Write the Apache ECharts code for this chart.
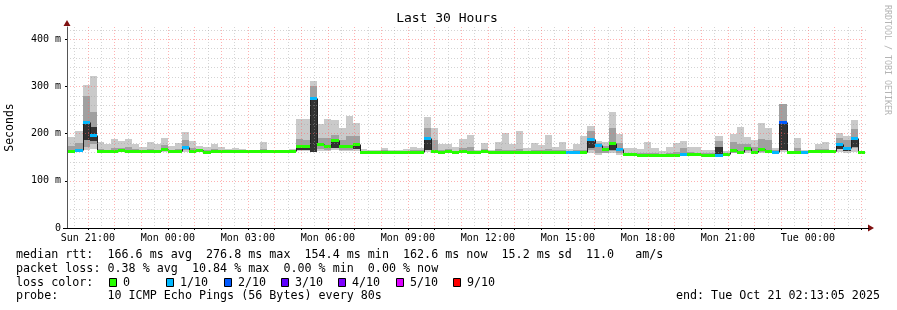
<!DOCTYPE html>
<html><head><meta charset="utf-8">
<script src="https://cdn.jsdelivr.net/npm/echarts@6/dist/echarts.min.js"></script>
<style>html,body{margin:0;padding:0;background:#ffffff}#c{width:897px;height:310px}</style>
</head><body><div id="c"></div>
<script>
const FONT = '"DejaVu Sans Mono", monospace';
const titleText = 'Last 30 Hours';
const yAxisTitle = 'Seconds';
const sideText = 'RRDTOOL / TOBI OETIKER';

// time axis in hours since Sun 00:00
const startHour = 20 + 13/60 + 5/3600;   // Sun 20:13:05
const endHour = startHour + 30;          // Tue 02:13:05
const firstBarHour = 20;                 // first 16-min bar: Sun 20:00
const barHours = 16/60;
const labelHours = [21,24,27,30,33,36,39,42,45,48];
const majorGridHours = [21,22,23,24,25,26,27,28,29,30,31,32,33,34,35,36,37,38,39,40,41,42,43,44,45,46,47,48,49,50];
const minorGridHours = [20.5,21.5,22.5,23.5,24.5,25.5,26.5,27.5,28.5,29.5,30.5,31.5,32.5,33.5,34.5,35.5,36.5,37.5,38.5,39.5,40.5,41.5,42.5,43.5,44.5,45.5,46.5,47.5,48.5,49.5];
const yMax = 426;
const yMajor = [0,100,200,300,400];
const yMinor = [20,40,60,80,120,140,160,180,220,240,260,280,320,340,360,380,420];

const _ = null;
// median RTT per 16-minute bar (ms)
const median = [
163,163,166,224,198,163,163,163,165,163,
164,163,164,163,168,163,164,172,164,165,
162,163,163,163,163,163,163,163,163,163,
163,163,163,174,174,276,179,174,186,174,
174,178,162,162,162,162,162,162,162,162,
162,191,164,161,164,161,163,162,161,163,
161,161,162,162,162,162,162,162,162,162,
162,161,161,162,188,176,167,180,167,156,
156,154,155,155,154,155,155,157,157,156,
155,155,154,157,165,162,169,162,167,164,
162,224,162,162,162,164,163,163,163,177,
169,190,162];
// lost pings out of 10 per bar
const loss = [
0,0,1,1,1,0,0,0,0,0,
0,0,0,0,0,0,0,1,0,0,
0,0,0,0,0,0,0,0,0,0,
0,0,0,0,0,1,0,0,0,0,
0,0,0,0,0,0,0,0,0,0,
0,1,0,0,0,0,0,0,0,0,
0,0,0,0,0,0,0,0,0,0,
0,1,1,0,1,1,0,0,1,0,
0,0,0,0,0,0,0,1,0,0,
0,0,1,0,0,0,0,0,0,0,
1,2,0,0,1,0,0,0,0,1,
1,1,0];
// smoke: fastest ping, slowest ping, inner band and dark core
const smokeMin = [
160,160,161,165,167,161,161,161,162,161,
161,161,161,161,162,161,161,162,161,162,
160,161,161,161,161,161,161,161,161,161,
161,161,161,164,164,162,164,164,165,164,
164,164,160,160,160,160,160,160,160,160,
160,162,161,159,160,159,160,160,159,160,
159,159,160,160,160,160,160,160,160,160,
160,159,159,160,158,155,158,160,155,154,
154,152,153,153,152,153,153,154,154,154,
153,153,152,154,158,158,160,158,158,158,
160,162,160,160,160,160,160,160,160,162,
160,162,160];
const smokeMax = [
192,192,206,303,322,183,179,188,184,188,
177,172,183,177,190,174,181,204,185,174,
172,179,172,167,170,167,165,165,183,165,
165,165,167,231,231,311,220,231,228,211,
238,223,167,165,165,170,165,165,167,172,
170,236,212,177,179,172,188,197,165,181,
166,183,202,177,206,169,181,176,198,172,
183,168,179,195,217,184,183,246,199,170,
170,167,183,170,163,172,180,185,172,172,
165,166,195,163,200,214,193,186,223,212,
170,262,163,191,165,165,179,183,165,202,
195,229,163];
const smokeLo = [
161,161,163,172,178,162,162,162,163,162,
162,162,162,162,164,162,162,165,162,163,
161,162,162,162,162,162,162,162,162,162,
162,162,162,166,166,166,168,166,170,166,
166,168,161,161,161,161,161,161,161,161,
161,165,162,160,162,160,162,161,160,162,
160,160,161,161,161,161,161,161,161,161,
161,160,160,161,165,160,160,164,160,155,
155,153,154,154,153,154,154,155,155,155,
154,154,153,155,160,160,163,160,162,160,
161,165,161,161,161,162,162,162,162,168,
164,170,161];
const smokeHi = [
172,174,180,280,246,168,166,170,170,172,
168,166,168,166,176,166,168,186,170,167,
165,167,165,164,165,164,164,164,167,164,
164,164,165,188,186,302,190,190,198,186,
196,194,164,163,163,165,163,163,164,166,
165,211,186,166,168,164,170,172,163,168,
163,168,166,165,168,164,165,165,168,165,
165,163,165,166,205,180,174,212,180,160,
160,158,160,158,157,160,162,170,162,160,
158,158,185,158,182,178,178,172,188,186,
166,262,162,170,163,164,168,168,164,190,
186,210,162];
const coreLo = [
_,_,_,186,185,_,_,_,_,_,
_,_,_,_,_,_,_,_,_,_,
_,_,_,_,_,_,_,_,_,_,
_,_,_,166,166,162,_,_,170,_,
_,168,_,_,_,_,_,_,_,_,
_,166,_,_,_,_,_,_,_,_,
_,_,_,_,_,_,_,_,_,_,
_,_,_,_,170,_,_,165,_,_,
_,_,_,_,_,_,_,_,_,_,
_,_,156,_,_,_,_,_,_,_,
_,165,_,_,_,_,_,_,_,168,
164,172,_];
const coreHi = [
_,_,_,224,215,_,_,_,_,_,
_,_,_,_,_,_,_,_,_,_,
_,_,_,_,_,_,_,_,_,_,
_,_,_,176,176,274,_,_,186,_,
_,180,_,_,_,_,_,_,_,_,
_,191,_,_,_,_,_,_,_,_,
_,_,_,_,_,_,_,_,_,_,
_,_,_,_,188,_,_,180,_,_,
_,_,_,_,_,_,_,_,_,_,
_,_,172,_,_,_,_,_,_,_,
_,224,_,_,_,_,_,_,_,177,
169,190,_];

const lossLegendLabels = ['0','1/10','2/10','3/10','4/10','5/10','9/10'];
const lossLegendColors = ['#26ff00','#00b8ff','#0059ff','#5e00ff','#7e00ff','#dd00ff','#ff0000'];
function lossColor(n){
  if (n >= 9) return lossLegendColors[6];
  if (n >= 5) return lossLegendColors[5];
  return lossLegendColors[n];
}
const statLines = [
  'median rtt:  166.6 ms avg  276.8 ms max  154.4 ms min  162.6 ms now  15.2 ms sd  11.0   am/s',
  'packet loss: 0.38 % avg  10.84 % max  0.00 % min  0.00 % now',
  'loss color:',
  'probe:       10 ICMP Echo Pings (56 Bytes) every 80s'
];
const endText = 'end: Tue Oct 21 02:13:05 2025';

const data = median.map((m, i) => [
  firstBarHour + i*barHours, firstBarHour + (i+1)*barHours,
  smokeMin[i], smokeMax[i], smokeLo[i], smokeHi[i],
  coreLo[i] == null ? m : coreLo[i], coreHi[i] == null ? m : coreHi[i],
  m, i + 1 < median.length ? median[i+1] : m, loss[i]
]);

function xSpan(api, cs){
  const c = v => Math.max(cs.x, Math.min(cs.x + cs.width, v));
  const xa = Math.round(c(api.coord([api.value(0), 0])[0]));
  const xb = Math.round(c(api.coord([api.value(1), 0])[0]));
  return [xa, xb];
}

const GRID = {left: 67, right: 30, top: 27, bottom: 82};
const chart = echarts.init(document.getElementById('c'));
const dayName = h => (h < 24 ? 'Sun' : h < 48 ? 'Mon' : 'Tue');
const pad = n => (n < 10 ? '0' : '') + n;
const majorLine = {color: 'rgba(255,100,100,0.5)', width: 1, type: [1, 2]};
const minorLine = {color: 'rgba(160,160,160,0.45)', width: 1, type: [1, 2]};

const option = {
  animation: false,
  backgroundColor: '#ffffff',
  grid: {left: GRID.left, right: GRID.right, top: GRID.top, bottom: GRID.bottom, containLabel: false},
  xAxis: [{
    type: 'value', min: startHour, max: endHour, z: 5,
    axisLine: {show: true, lineStyle: {color: '#000', width: 1}},
    axisTick: {show: true, customValues: majorGridHours, length: 2, lineStyle: {color: '#000'}},
    axisLabel: {customValues: labelHours, margin: 5, color: '#000', fontFamily: FONT, fontSize: 10,
      formatter: v => dayName(v) + ' ' + pad(Math.round(v) % 24) + ':00'},
    splitLine: {show: true, lineStyle: majorLine}
  }, {
    type: 'value', min: startHour, max: endHour, z: 4,
    axisLine: {show: false}, axisLabel: {show: false},
    axisTick: {show: false, customValues: minorGridHours},
    splitLine: {show: true, lineStyle: minorLine}
  }],
  yAxis: [{
    type: 'value', min: 0, max: yMax, z: 5,
    axisLine: {show: true, lineStyle: {color: '#555', width: 1}},
    axisTick: {show: true, customValues: yMajor, length: 2, lineStyle: {color: '#000'}},
    axisLabel: {customValues: yMajor, margin: 6, color: '#000', fontFamily: FONT, fontSize: 10,
      formatter: v => (v === 0 ? '0' : v + ' m')},
    splitLine: {show: true, lineStyle: majorLine}
  }, {
    type: 'value', min: 0, max: yMax, z: 4, position: 'left',
    axisLine: {show: false}, axisLabel: {show: false},
    axisTick: {show: false, customValues: yMinor},
    splitLine: {show: true, lineStyle: minorLine}
  }],
  series: [{
    type: 'custom', name: 'smoke', z: 2, clip: true,
    encode: {x: [0, 1], y: [2, 3]},
    data: data,
    renderItem: (params, api) => {
      const cs = params.coordSys;
      const [xa, xb] = xSpan(api, cs);
      if (xb <= xa) return null;
      const band = (lo, hi, fill) => {
        const ya = Math.round(api.coord([api.value(0), hi])[1]);
        const yb = Math.round(api.coord([api.value(0), lo])[1]);
        return {type: 'rect', shape: {x: xa, y: ya, width: xb - xa, height: Math.max(0, yb - ya)}, style: {fill}};
      };
      return {type: 'group', children: [
        band(api.value(2), api.value(3), '#cacaca'),
        band(api.value(4), api.value(5), '#a0a0a0'),
        band(api.value(6), api.value(7), '#323232')
      ]};
    }
  }, {
    type: 'custom', name: 'median', z: 3, clip: true,
    encode: {x: [0, 1], y: [8, 9]},
    data: data,
    renderItem: (params, api) => {
      const cs = params.coordSys;
      const [xa, xb] = xSpan(api, cs);
      if (xb <= xa) return null;
      const y0 = Math.round(api.coord([api.value(0), api.value(8)])[1]) + 0.5;
      const y1 = Math.round(api.coord([api.value(0), api.value(9)])[1]) + 0.5;
      const st = {stroke: '#202020', lineWidth: 1};
      const ch = [{type: 'line', shape: {x1: xa, y1: y0, x2: xb, y2: y0}, style: st}];
      if (xb < cs.x + cs.width) ch.push({type: 'line', shape: {x1: xb + 0.5, y1: y0, x2: xb + 0.5, y2: y1}, style: st});
      return {type: 'group', children: ch};
    }
  }, {
    type: 'custom', name: 'loss', z: 4, clip: true,
    encode: {x: [0, 1], y: [8]},
    data: data,
    renderItem: (params, api) => {
      const cs = params.coordSys;
      const [xa, xb] = xSpan(api, cs);
      if (xb <= xa) return null;
      const ym = Math.round(api.coord([api.value(0), api.value(8)])[1]);
      return {type: 'rect', shape: {x: xa, y: ym - 1, width: xb - xa, height: 3},
        style: {fill: lossColor(api.value(10))}};
    }
  }]
};
chart.setOption(option);

// decorations: title, axis title, arrows, legend text
const plotRight = 897 - GRID.right, plotBottom = 310 - GRID.bottom;
const g = [];
g.push({type: 'text', x: 447, y: 19, style: {text: titleText, font: '13px ' + FONT, fill: '#000', align: 'center', verticalAlign: 'middle'}});
g.push({type: 'text', x: 10.5, y: 127.5, rotation: Math.PI/2, style: {text: yAxisTitle, font: '11.5px ' + FONT, fill: '#000', align: 'center', verticalAlign: 'middle'}});
g.push({type: 'text', x: 887.5, y: 60, rotation: -Math.PI/2, style: {text: sideText, font: '8.3px ' + FONT, fill: '#b4b4b4', align: 'center', verticalAlign: 'middle'}});
g.push({type: 'polygon', shape: {points: [[GRID.left - 3.5, GRID.top - 1], [GRID.left + 3.5, GRID.top - 1], [GRID.left, GRID.top - 7]]}, style: {fill: '#7f1010'}});
g.push({type: 'polygon', shape: {points: [[plotRight + 1, plotBottom - 3.5], [plotRight + 1, plotBottom + 3.5], [plotRight + 7, plotBottom]]}, style: {fill: '#7f1010'}});
g.push({type: 'line', shape: {x1: GRID.left - 4, y1: plotBottom + 0.5, x2: plotRight + 2, y2: plotBottom + 0.5}, style: {stroke: '#000', lineWidth: 1}});
const rowY = [255, 268.5, 282.5, 296];
statLines.forEach((t, k) => g.push({type: 'text', x: 16, y: rowY[k], style: {text: t, font: '11.7px ' + FONT, fill: '#000', verticalAlign: 'middle'}}));
g.push({type: 'text', x: 880, y: rowY[3], style: {text: endText, font: '11.7px ' + FONT, fill: '#000', align: 'right', verticalAlign: 'middle'}});
lossLegendLabels.forEach((lab, j) => {
  const bx = 109 + j*57.3;
  g.push({type: 'rect', shape: {x: Math.round(bx) + 0.5, y: 278.5, width: 7, height: 8}, style: {fill: lossLegendColors[j], stroke: '#000', lineWidth: 1}});
  g.push({type: 'text', x: Math.round(bx) + 14, y: rowY[2], style: {text: lab, font: '11.7px ' + FONT, fill: '#000', verticalAlign: 'middle'}});
});
chart.setOption({graphic: g});
</script></body></html>
